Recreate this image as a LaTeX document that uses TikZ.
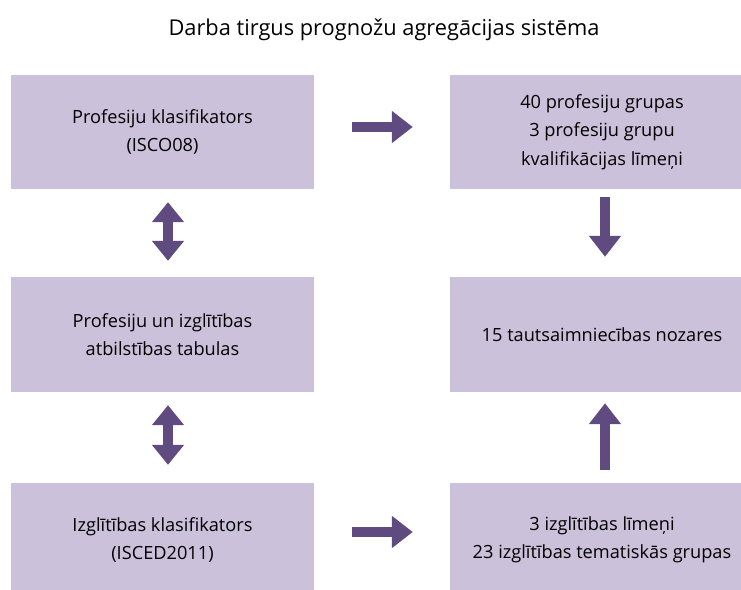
\documentclass[tikz,border=0pt]{standalone}
\usepackage{fontspec}
\setmainfont{Open Sans}
\usetikzlibrary{arrows.meta}
\definecolor{boxlila}{RGB}{204,193,219}
\definecolor{arrlila}{RGB}{95,75,128}

\begin{document}
\begin{tikzpicture}[x=1pt,y=-1pt,
box/.style n args={2}{rectangle,fill=boxlila,minimum width=#1,minimum height=#2,inner sep=0pt,align=center,font=\fontsize{18.2}{28.5}\selectfont},
blk/.style={draw=arrlila,line width=10pt,-{Triangle[length=21pt,width=31pt]}},
dblk/.style={blk,{Triangle[length=20pt,width=31pt]}-{Triangle[length=20pt,width=31pt]}}]
\clip (0,0) rectangle (741,589);
\node[font=\fontsize{21.8}{26}\selectfont] (title) at (384,30) {Darba tirgus prognožu agregācijas sistēma};
% left column
\node[box={303pt}{114pt}] (prof) at (162.5,132) {Profesiju klasifikators\\(ISCO08)};
\node[box={303pt}{115pt}] (tab) at (162.5,334.5) {Profesiju un izglītības\\atbilstības tabulas};
\node[box={303pt}{114pt}] (izgl) at (162.5,540) {Izglītības klasifikators\\(ISCED2011)};
% right column
\node[box={304pt}{114pt}] (grp) at (602,132) {40 profesiju grupas\\3 profesiju grupu\\kvalifikācijas līmeņi};
\node[box={304pt}{115pt}] (noz) at (602,334.5) {15 tautsaimniecības nozares};
\node[box={304pt}{114pt}] (lim) at (602,540) {3 izglītības līmeņi\\23 izglītības tematiskās grupas};
% arrows
\draw[blk,shorten <=38pt,shorten >=37pt] ([yshift=5pt]prof.east) -- ([yshift=5pt]grp.west);
\draw[blk,shorten <=38pt,shorten >=37pt] ([yshift=8pt]izgl.east) -- ([yshift=8pt]lim.west);
\draw[dblk,shorten <=13pt,shorten >=16pt] ([xshift=5.5pt]prof.south) -- ([xshift=5.5pt]tab.north);
\draw[dblk,shorten <=13pt,shorten >=18pt] ([xshift=5.5pt]tab.south) -- ([xshift=5.5pt]izgl.north);
\draw[blk,shorten <=8pt,shorten >=20pt] ([xshift=3pt]grp.south) -- ([xshift=3pt]noz.north);
\draw[blk,shorten <=13pt,shorten >=11pt] ([xshift=3pt]lim.north) -- ([xshift=3pt]noz.south);
\end{tikzpicture}
\end{document}
